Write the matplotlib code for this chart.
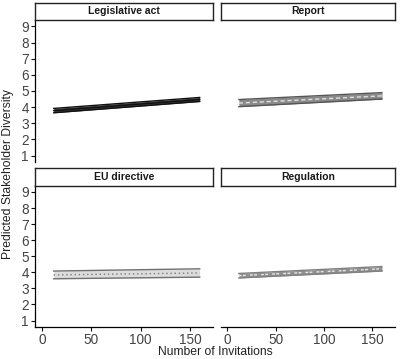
import matplotlib
matplotlib.use("Agg")
import matplotlib.pyplot as plt

plt.rcParams["font.family"] = ["Liberation Sans", "DejaVu Sans"]

# data
panels = ["Legislative act", "Report", "EU directive", "Regulation"]
x_vals = [12, 160]
lower = {
    "Legislative act": [3.65, 4.35],
    "Report": [4.03, 4.50],
    "EU directive": [3.60, 3.70],
    "Regulation": [3.65, 4.08],
}
mid = {
    "Legislative act": [3.78, 4.47],
    "Report": [4.25, 4.70],
    "EU directive": [3.84, 3.96],
    "Regulation": [3.79, 4.22],
}
upper = {
    "Legislative act": [3.92, 4.60],
    "Report": [4.47, 4.90],
    "EU directive": [4.08, 4.22],
    "Regulation": [3.93, 4.36],
}
y_ticks = [1, 2, 3, 4, 5, 6, 7, 8, 9]
x_ticks = [0, 50, 100, 150]

styles = {
    "Legislative act": dict(fill="#3a3a3a", edge="#111111", line="#111111", ls="-"),
    "Report": dict(fill="#8a8a8a", edge="#555555", line="#e0e0e0", ls=(0, (3, 2))),
    "EU directive": dict(fill="#dcdcdc", edge="#707070", line="#7a7a7a", ls=(0, (1, 2))),
    "Regulation": dict(fill="#8f8f8f", edge="#808080", line="#e6e6e6", ls=(0, (2, 1, 2, 3))),
}

W, H = 400, 359
fig = plt.figure(figsize=(W / 100, H / 100), dpi=100)

# panel boxes in pixels: left, right, top, bottom
cols = [(35, 213), (220.5, 395)]
rows = [(20, 162), (185.5, 327)]
strip_h = 17.5

for i, name in enumerate(panels):
    r, c = divmod(i, 2)
    x0, x1 = cols[c]
    y0, y1 = rows[r]
    ax = fig.add_axes([x0 / W, 1 - y1 / H, (x1 - x0) / W, (y1 - y0) / H])
    st = styles[name]
    ax.fill_between(x_vals, lower[name], upper[name], color=st["fill"], lw=0)
    ax.plot(x_vals, lower[name], color=st["edge"], lw=1.0)
    ax.plot(x_vals, upper[name], color=st["edge"], lw=1.0)
    ax.plot(x_vals, mid[name], color=st["line"], lw=1.0, linestyle=st["ls"])
    ax.set_xlim(-7, 173.5)
    ax.set_ylim(0.6, 9.4)
    for s in ["top", "right"]:
        ax.spines[s].set_visible(False)
    ax.spines["left"].set_linewidth(0.9)
    ax.spines["bottom"].set_linewidth(0.9)
    ax.tick_params(colors="#111111", labelcolor="#444444", labelsize=9.8,
                   length=3, width=0.8, pad=1.5)
    ax.set_yticks(y_ticks)
    ax.set_xticks(x_ticks)
    if c == 1:
        ax.spines["left"].set_visible(False)
        ax.tick_params(axis="y", left=False, labelleft=False)
    if r == 0:
        ax.spines["bottom"].set_visible(False)
        ax.tick_params(axis="x", bottom=False, labelbottom=False)

    # strip
    sax = fig.add_axes([x0 / W, 1 - y0 / H, (x1 - x0) / W, strip_h / H])
    sax.set_xticks([])
    sax.set_yticks([])
    for s in sax.spines.values():
        s.set_linewidth(1.0)
        s.set_color("#222222")
    sax.text(0.5, 0.5, name, ha="center", va="center", fontsize=7.5,
             fontweight="bold", color="#1a1a1a", transform=sax.transAxes)

fig.text(215 / W, 1 - 352 / H, "Number of Invitations", ha="center", va="center",
         fontsize=8.7, color="#222222")
fig.text(8 / W, 1 - 174 / H, "Predicted Stakeholder Diversity", ha="center",
         va="center", rotation=90, fontsize=8.7, color="#222222")

fig.savefig("out.png", dpi=100)
